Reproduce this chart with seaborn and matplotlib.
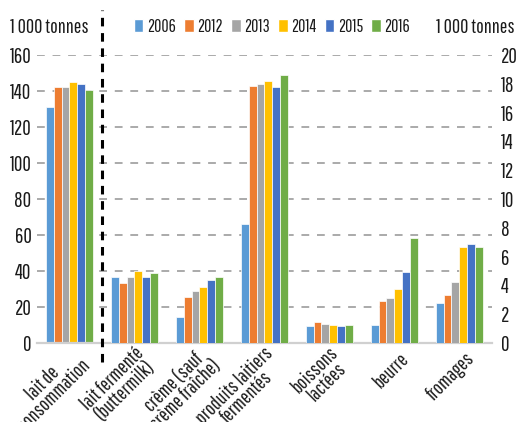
import matplotlib
matplotlib.use("Agg")
import matplotlib.pyplot as plt
import matplotlib.transforms as mtransforms
from matplotlib.patches import Patch
import numpy as np
import pandas as pd
import seaborn as sns

categories = ["lait de\nconsommation", "lait fermenté\n(buttermilk)", "crème (sauf\ncrème fraîche)",
              "produits laitiers\nfermentés", "boissons\nlactées", "beurre", "fromages"]
years = ["2006", "2012", "2013", "2014", "2015", "2016"]
colors = ["#5B9BD5", "#ED7D31", "#A5A5A5", "#FFC000", "#4472C4", "#70AD47"]

# left axis (0-160)
lait_consommation = [131, 142, 142, 145, 143.7, 140.4]
# right axis (0-20)
lait_fermente = [4.58, 4.19, 4.58, 4.98, 4.58, 4.89]
creme = [1.79, 3.17, 3.59, 3.87, 4.38, 4.58]
produits_fermentes = [8.26, 17.87, 17.98, 18.2, 17.78, 18.6]
boissons_lactees = [1.18, 1.46, 1.34, 1.25, 1.18, 1.25]
beurre = [1.25, 2.94, 3.15, 3.75, 4.95, 7.27]
fromages = [2.76, 3.33, 4.24, 6.67, 6.85, 6.67]

left_df = pd.DataFrame({"cat": categories[0], "year": years, "val": lait_consommation})
right_series = [lait_fermente, creme, produits_fermentes, boissons_lactees, beurre, fromages]
right_df = pd.concat([pd.DataFrame({"cat": c, "year": years, "val": v})
                      for c, v in zip(categories[1:], right_series)], ignore_index=True)

sns.set_theme(style="white")
plt.rcParams["font.family"] = ["Pathway Gothic One", "Roboto Condensed", "DejaVu Sans"]
txt = "#1a1a1a"

fig = plt.figure(figsize=(5.16, 4.22), dpi=100)
ax = fig.add_axes([0.0717, 0.187, 0.881, 0.683])
ax2 = ax.twinx()

bar_kw = dict(x="cat", y="val", hue="year", order=categories, hue_order=years,
              palette=colors, saturation=1, width=0.72, edgecolor="white", linewidth=0.5,
              legend=False)
sns.barplot(data=left_df, ax=ax, **bar_kw)
sns.barplot(data=right_df, ax=ax2, **bar_kw)

ax.set_xlim(-0.5, 6.5)
ax.set_ylim(0, 160)
ax2.set_ylim(0, 20)
ax.set_yticks(np.arange(0, 161, 20))
ax2.set_yticks(np.arange(0, 21, 2))
ax.set_axisbelow(True)
ax.yaxis.grid(True, color="#AAAAAA", linewidth=1.4, linestyle=(0, (4, 4)))
ax.xaxis.grid(False)

for a in (ax, ax2):
    for s in ["top", "left", "right", "bottom"]:
        a.spines[s].set_visible(False)
    a.set_xlabel("")
    a.set_ylabel("")
    a.tick_params(axis="y", length=0, labelsize=15, labelcolor=txt)
ax.spines["bottom"].set_visible(True)
ax.spines["bottom"].set_color("#D0D0D0")
ax.spines["bottom"].set_linewidth(1.6)
ax.tick_params(axis="y", pad=4)
ax2.tick_params(axis="y", pad=7)

ax.set_xticks(range(len(categories)))
ax.set_xticklabels(categories, rotation=45, ha="right", va="center", rotation_mode="anchor",
                   multialignment="center", fontsize=14.5, color=txt, linespacing=0.85)
ax.tick_params(axis="x", length=0, pad=0)
offset = mtransforms.ScaledTranslation(0.12, -0.13, fig.dpi_scale_trans)
for lbl in ax.get_xticklabels():
    lbl.set_transform(lbl.get_transform() + offset)

# separator between left-axis and right-axis categories
trans = mtransforms.blended_transform_factory(ax.transData, ax.transAxes)
ax.plot([0.5, 0.5], [-0.066, 1.156], transform=trans, color="black", linewidth=2.2,
        linestyle=(0, (2.8, 2.2)), clip_on=False, zorder=5)

fig.text(0.02, 0.935, "1 000 tonnes", fontsize=14.5, color=txt, va="center", ha="left")
fig.text(0.998, 0.935, "1 000 tonnes", fontsize=14.5, color=txt, va="center", ha="right")

handles = [Patch(facecolor=c, label=y) for c, y in zip(colors, years)]
fig.legend(handles=handles, loc="center", bbox_to_anchor=(0.527, 0.936), ncol=6, frameon=False,
           fontsize=12.8, handlelength=0.55, handleheight=0.75, handletextpad=0.2,
           columnspacing=0.45, labelcolor=txt)

fig.savefig("out.png", dpi=100)
plt.close(fig)
